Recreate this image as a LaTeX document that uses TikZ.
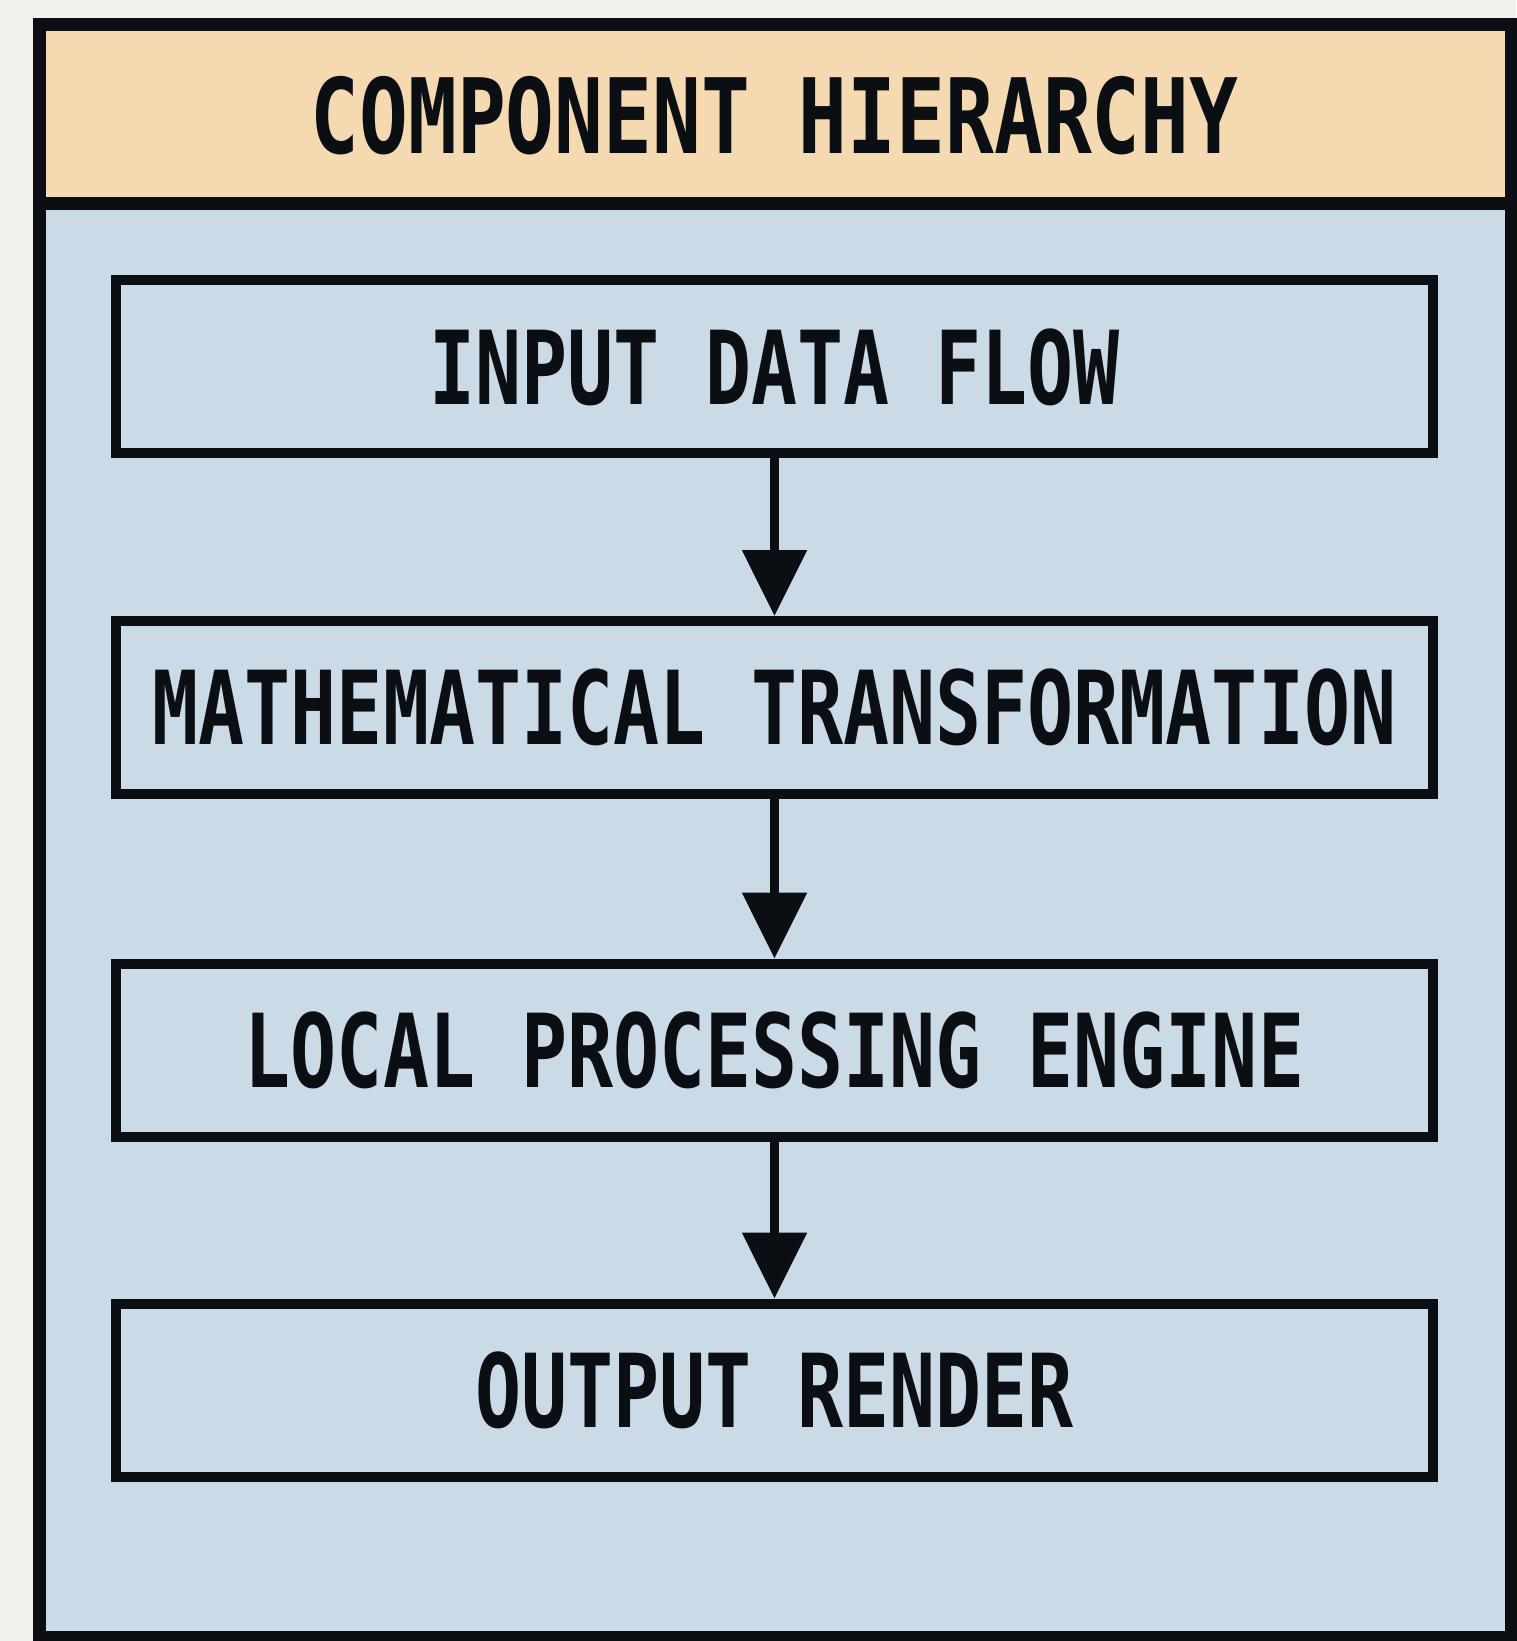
\documentclass[tikz,border=0pt]{standalone}
\usepackage{fontspec}
\usetikzlibrary{arrows.meta}
\newfontfamily\titlefont[FakeStretch=0.78]{DejaVu Sans Mono Bold}
\newfontfamily\boxfont[FakeStretch=0.75]{DejaVu Sans Mono Bold}
\definecolor{bgwhite}{HTML}{F2F1EC}
\definecolor{peach}{HTML}{F4D9B1}
\definecolor{bodyblue}{HTML}{CBDAE7}
\definecolor{ink}{HTML}{0B0F14}
\tikzset{
  stagebox/.style={draw=ink, line width=5pt, fill=bodyblue, minimum width=658.5pt, minimum height=86.5pt, inner sep=0pt, font=\boxfont\fontsize{51}{55}\selectfont, text=ink},
  flowarrow/.style={draw=ink, line width=4.5pt, -{Triangle[width=31.5pt, length=33pt]}},
  titletext/.style={font=\titlefont\fontsize{52}{56}\selectfont, text=ink, inner sep=0pt}
}
\begin{document}
\begin{tikzpicture}[x=0.5pt, y=-0.5pt]
\useasboundingbox (0,0) rectangle (1516,1641);
\fill[bgwhite] (0,0) rectangle (1516,1641);
\fill[peach] (39.5,25) rectangle (1511,203.5);
\fill[bodyblue] (39.5,203.5) rectangle (1511,1637);
\draw[ink, line width=6.5pt] (39.5,25) rectangle (1511,1637);
\draw[ink, line width=6.5pt] (39.5,203.5) -- (1511,203.5);
\node[titletext] (title) at (774.5,116) {COMPONENT HIERARCHY};
\node[stagebox] (input) at (774.5,367) {INPUT DATA FLOW};
\node[stagebox] (math) at (774.5,707.5) {MATHEMATICAL TRANSFORMATION};
\node[stagebox] (local) at (774.5,1050) {LOCAL PROCESSING ENGINE};
\node[stagebox] (output) at (774.5,1390) {OUTPUT RENDER};
\draw[flowarrow] (input) -- (math);
\draw[flowarrow] (math) -- (local);
\draw[flowarrow] (local) -- (output);
\end{tikzpicture}
\end{document}
